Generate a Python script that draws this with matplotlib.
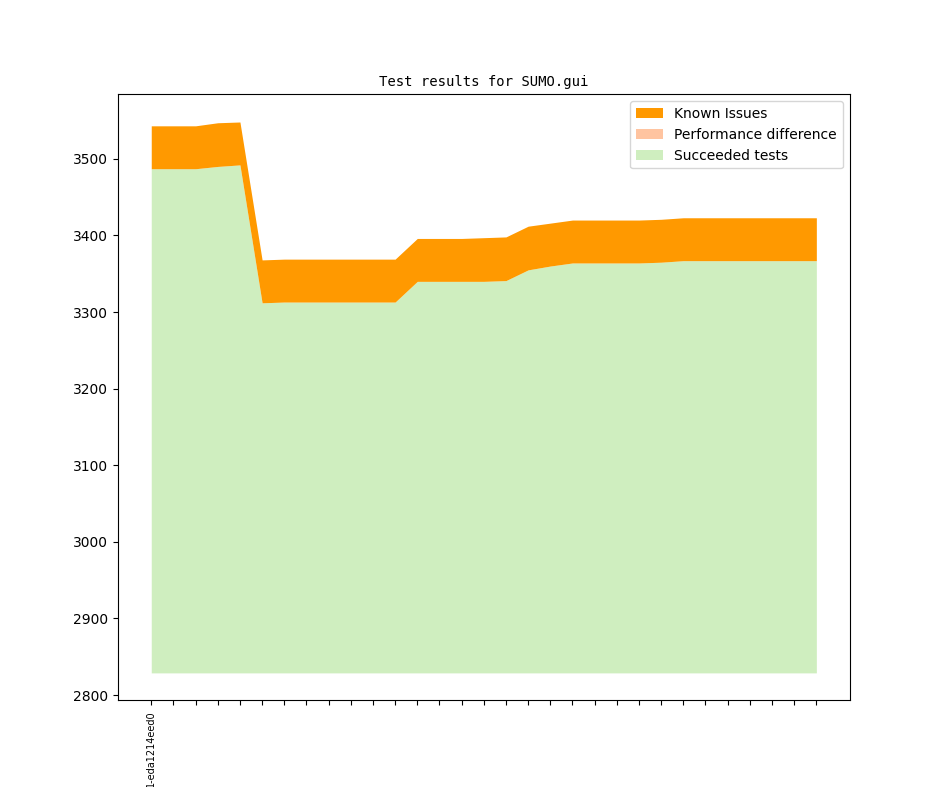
#!/usr/bin/env python3
import numpy as np
import matplotlib
matplotlib.use('Agg')
import matplotlib.pyplot as plt

# one entry per revision
revisions = ['1-eda1214eed0'] + [''] * 30
succeeded = [3487, 3487, 3487, 3490, 3492, 3312, 3313, 3313, 3313, 3313, 3313,
             3313, 3340, 3340, 3340, 3340, 3341, 3355, 3360, 3364, 3364, 3364,
             3364, 3365, 3367, 3367, 3367, 3367, 3367, 3367, 3367]
performance = [0] * 31
known_issues = [56, 56, 56, 57, 56, 56, 56, 56, 56, 56, 56,
                56, 56, 56, 56, 57, 57, 57, 56, 56, 56, 56,
                56, 56, 56, 56, 56, 56, 56, 56, 56]
baseline = 2829


def plot(x, layers):
    fig, ax = plt.subplots(figsize=(9.44, 7.87), dpi=100)
    bottom = np.full(len(x), baseline, dtype=float)
    top = np.zeros(len(x))
    handles = []
    for (values, label, color) in layers:
        top = top + np.array(values)
        handles.append(ax.fill_between(x, bottom, top, color=color, label=label, linewidth=0))
        bottom = top

    ax.set_xticks(x)
    ax.set_xticklabels(revisions, rotation=90, fontsize=7)
    ax.set_title('Test results for SUMO.gui', fontsize=10, family='DejaVu Sans Mono')
    ax.legend(handles[::-1], [h.get_label() for h in handles[::-1]], loc='upper right')
    fig.savefig('out.png', dpi=100)


if __name__ == '__main__':
    x = np.arange(len(succeeded))
    plot(x, [(succeeded, 'Succeeded tests', '#cfeebf'),
             (performance, 'Performance difference', '#ffc4a0'),
             (known_issues, 'Known Issues', '#ff9900')])
